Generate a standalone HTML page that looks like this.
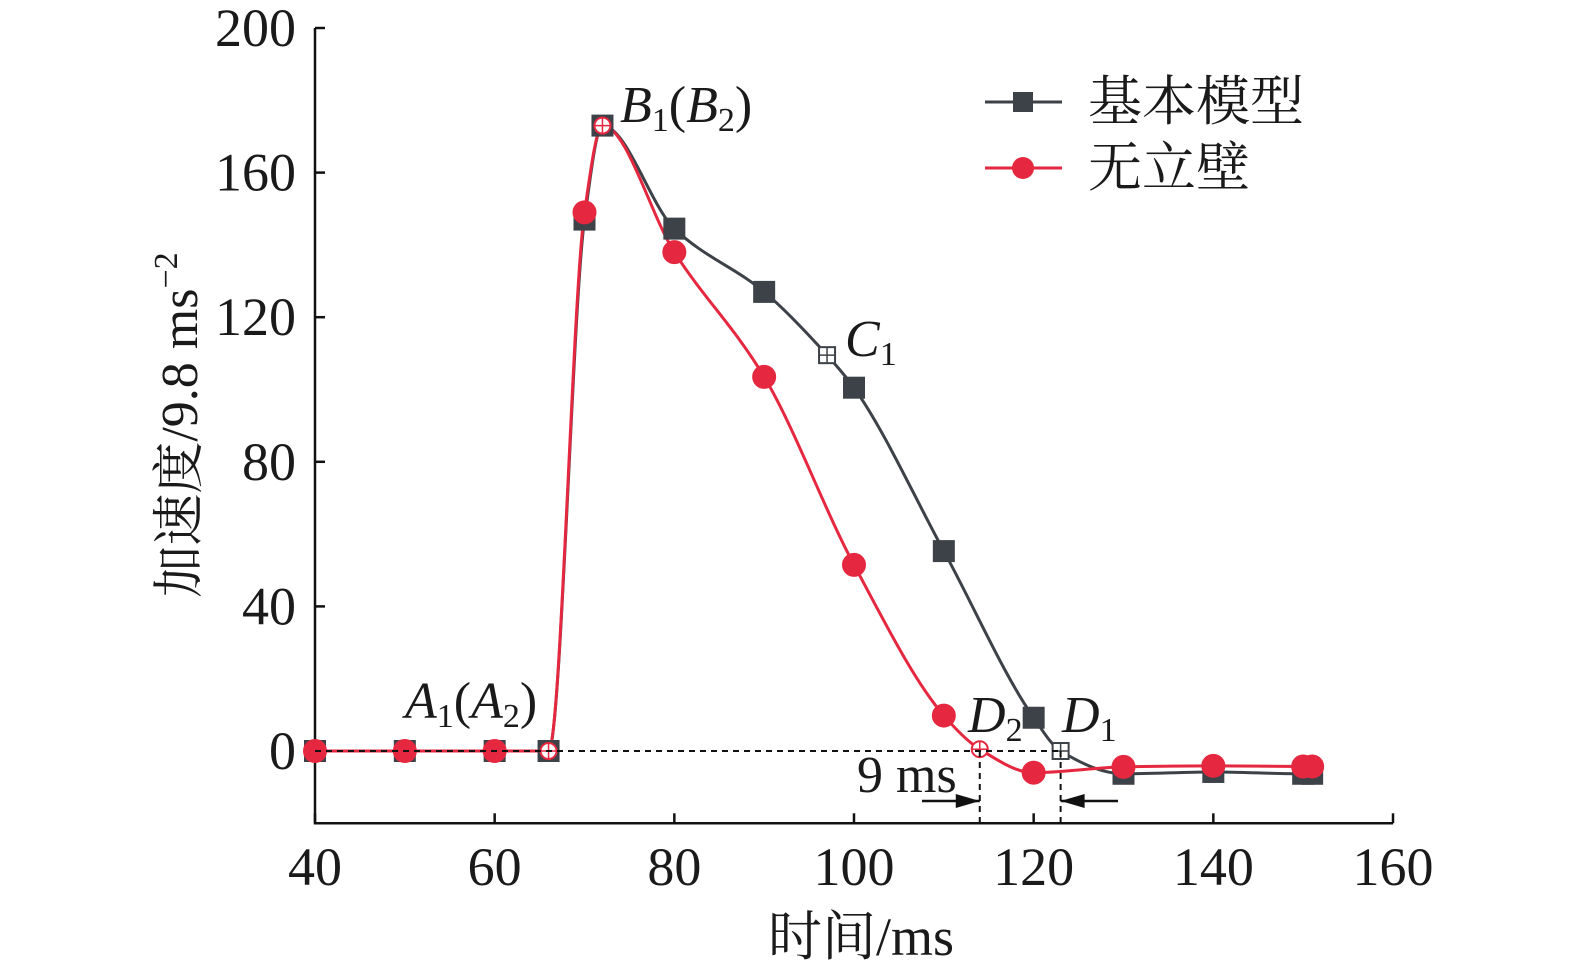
<!DOCTYPE html>
<html><head><meta charset="utf-8"><style>
body{margin:0;background:#fff}
svg{display:block}
text{font-family:"Liberation Serif","Noto Serif CJK SC",serif;fill:#1a1a1a}
</style></head><body>
<svg width="1575" height="976" viewBox="0 0 1575 976">
<g id="axes"></g>
<g id="series"></g>
<g id="ann"></g>
</svg>
<script>
const xTicks=[40,60,80,100,120,140,160];
const yTicks=[0,40,80,120,160,200];
const grayX=[40,50,60,66,70,72,80,90,97,100,110,120,123,130,140,150,151];
const grayY=[0,0,0,0,147,173,144.5,127,109.5,100.5,55.3,9.2,0,-6.3,-5.8,-6.3,-6.3];
const redX=[40,50,60,66,70,72,80,90,100,110,114,120,130,140,150,151];
const redY=[0,0,0,0,149,173,138,103.5,51.5,9.8,0.5,-6,-4.4,-4.1,-4.3,-4.3];
const grayOpen=[97,123];
const redOpen=[66,72,114];
const NS="http://www.w3.org/2000/svg";
const X=v=>315+(v-40)*(1078/120);
const Y=v=>751-v*3.615;
function mk(tag,attrs,parent,txt){const e=document.createElementNS(NS,tag);for(const k in attrs)e.setAttribute(k,attrs[k]);if(txt!==undefined)e.textContent=txt;parent.appendChild(e);return e;}
const axes=document.getElementById('axes'),ser=document.getElementById('series'),ann=document.getElementById('ann');
let e=mk('path',{d:`M${X(40)} ${Y(200)}V${Y(-20)}H${X(160)}`,fill:'none',stroke:'#111','stroke-width':2.5},axes);


xTicks.forEach(t=>{
 let l=mk('line',{x1:X(t),x2:X(t),y1:Y(-20),y2:Y(-20)-10,stroke:'#111','stroke-width':2.5},axes);
 
 
 let s=mk('text',{x:X(t),y:885,'font-size':54,'text-anchor':'middle'},axes,t);
 
 
});
yTicks.forEach(t=>{
 let l=mk('line',{x1:X(40),x2:X(40)+10,y1:Y(t),y2:Y(t),stroke:'#111','stroke-width':2.5},axes);
 
 
 let s=mk('text',{x:296,y:Y(t)+18,'font-size':54,'text-anchor':'end'},axes,t);
 
 
});
let xt=mk('text',{x:861,y:955,'font-size':54,'text-anchor':'middle'},axes,'时间/ms');


let yt=mk('text',{x:0,y:0,'font-size':52,'text-anchor':'middle',transform:'translate(197,425) rotate(-90)'},axes);


yt.innerHTML='加速度/9.8 ms<tspan font-size="34" dy="-20">−2</tspan>';
mk('path',{d:`M${X(40)} ${Y(0)}H${X(123)}M${X(114)} ${Y(0)}V${Y(-20)}M${X(123)} ${Y(0)}V${Y(-20)}`,stroke:'#111','stroke-width':2,'stroke-dasharray':'6,5',fill:'none'},ann);
function smooth(xs,ys){
 const n=xs.length,px=xs.map(X),py=ys.map(Y);
 const d=[],m=[];
 for(let i=0;i<n-1;i++)d.push((py[i+1]-py[i])/(px[i+1]-px[i]));
 for(let i=0;i<n;i++){
  if(i==0)m.push(d[0]);else if(i==n-1)m.push(d[n-2]);
  else if(d[i-1]*d[i]<=0)m.push(0);
  else{const h0=px[i]-px[i-1],h1=px[i+1]-px[i];const w1=2*h1+h0,w2=h1+2*h0;m.push((w1+w2)/(w1/d[i-1]+w2/d[i]));}
 }
 let s=`M${px[0]} ${py[0]}`;
 for(let i=0;i<n-1;i++){const h=(px[i+1]-px[i])/3;s+=`C${px[i]+h} ${py[i]+m[i]*h} ${px[i+1]-h} ${py[i+1]-m[i+1]*h} ${px[i+1]} ${py[i+1]}`;}
 return s;
}
let gl=mk('path',{d:smooth(grayX,grayY),fill:'none',stroke:'#3d4248','stroke-width':3},ser);


let rl=mk('path',{d:smooth(redX,redY),fill:'none',stroke:'#e5283f','stroke-width':3},ser);


grayX.forEach((x,i)=>{const cx=X(x),cy=Y(grayY[i]);const open=grayOpen.includes(x);
 const s=open?8:10;
 let r=mk('rect',{x:cx-s,y:cy-s,width:2*s,height:2*s,fill:open?'#fff':'#3d4248',stroke:'#3d4248','stroke-width':2},ser);
 
 
 if(open)mk('path',{d:`M${cx-8} ${cy}H${cx+8}M${cx} ${cy-8}V${cy+8}`,stroke:'#3d4248','stroke-width':1.5},ser);
});
redX.forEach((x,i)=>{const cx=X(x),cy=Y(redY[i]);const open=redOpen.includes(x);
 let c=mk('circle',{cx:cx,cy:cy,r:open?8:11,fill:open?'#fff':'#e5283f',stroke:'#e5283f','stroke-width':2},ser);
 
 
 if(open)mk('path',{d:`M${cx-8} ${cy}H${cx+8}M${cx} ${cy-8}V${cy+8}`,stroke:'#e5283f','stroke-width':1.5},ser);
});
mk('path',{d:`M922 801H${X(114)}M1118 801H${X(123)}`,stroke:'#111','stroke-width':2.5},ann);
mk('path',{d:`M${X(114)} 801l-24 -7v14zM${X(123)} 801l24 -7v14z`,fill:'#111'},ann);
ann.insertAdjacentHTML('beforeend',`
<text x="857" y="792" font-size="52">9 ms</text>
<text x="405" y="718" font-size="52"><tspan font-style="italic">A</tspan><tspan font-size="34" dy="9">1</tspan><tspan dy="-9">(</tspan><tspan font-style="italic">A</tspan><tspan font-size="34" dy="9">2</tspan><tspan dy="-9">)</tspan></text>
<text x="620" y="122" font-size="52"><tspan font-style="italic">B</tspan><tspan font-size="34" dy="9">1</tspan><tspan dy="-9">(</tspan><tspan font-style="italic">B</tspan><tspan font-size="34" dy="9">2</tspan><tspan dy="-9">)</tspan></text>
<text x="845" y="356" font-size="52"><tspan font-style="italic">C</tspan><tspan font-size="34" dy="9">1</tspan></text>
<text x="968" y="732" font-size="52"><tspan font-style="italic">D</tspan><tspan font-size="34" dy="9">2</tspan></text>
<text x="1062" y="732" font-size="52"><tspan font-style="italic">D</tspan><tspan font-size="34" dy="9">1</tspan></text>
<g>
<line x1="985" y1="102" x2="1062" y2="102" stroke="#3d4248" stroke-width="3"/>
<rect x="1013" y="92" width="20" height="20" fill="#3d4248"/>
<text x="1088" y="120" font-size="54">基本模型</text>
<line x1="985" y1="168" x2="1062" y2="168" stroke="#e5283f" stroke-width="3"/>
<circle cx="1023" cy="168" r="11" fill="#e5283f"/>
<text x="1088" y="186" font-size="54">无立壁</text>
</g>`);
</script>
</body></html>
